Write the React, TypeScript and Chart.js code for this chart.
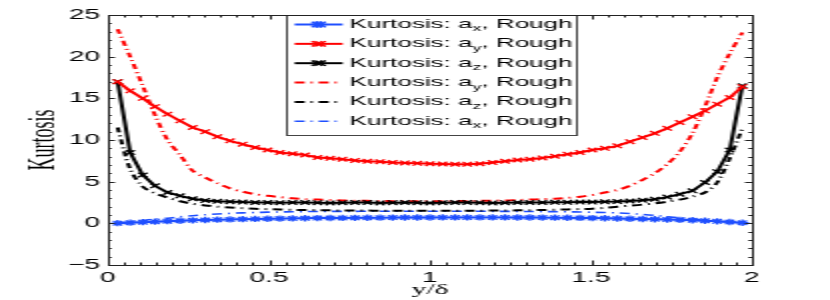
import React, { useEffect, useRef } from "react";
import { Chart, registerables } from "chart.js";

Chart.register(...registerables);

// wall-normal position y/δ
const yDelta = [
  0.030, 0.069, 0.108, 0.146, 0.185, 0.224, 0.263, 0.302, 0.340, 0.379,
  0.418, 0.457, 0.496, 0.534, 0.573, 0.612, 0.651, 0.690, 0.728, 0.767,
  0.806, 0.845, 0.884, 0.922, 0.961, 1.000, 1.039, 1.078, 1.116, 1.155,
  1.194, 1.233, 1.272, 1.310, 1.349, 1.388, 1.427, 1.466, 1.504, 1.543,
  1.582, 1.621, 1.660, 1.698, 1.737, 1.776, 1.815, 1.854, 1.892, 1.931,
  1.970,
];

const kurtAxRough = [
  0.02, 0.08, 0.14, 0.2, 0.26, 0.31, 0.36, 0.4, 0.44, 0.47,
  0.5, 0.53, 0.55, 0.57, 0.59, 0.61, 0.63, 0.64, 0.65, 0.66,
  0.67, 0.68, 0.69, 0.7, 0.7, 0.7, 0.71, 0.71, 0.71, 0.71,
  0.71, 0.71, 0.7, 0.7, 0.69, 0.68, 0.67, 0.65, 0.63, 0.61,
  0.58, 0.55, 0.52, 0.49, 0.46, 0.42, 0.37, 0.31, 0.24, 0.16,
  0.07,
];

const kurtAyRough = [
  17.0, 15.9, 15.0, 14.0, 13.1, 12.3, 11.5, 11.0, 10.4, 9.9,
  9.5, 9.1, 8.8, 8.5, 8.35, 8.2, 7.9, 7.8, 7.7, 7.55,
  7.45, 7.4, 7.3, 7.25, 7.2, 7.15, 7.12, 7.1, 7.1, 7.15,
  7.3, 7.45, 7.6, 7.7, 7.85, 8.05, 8.3, 8.5, 8.8, 9.0,
  9.3, 9.8, 10.3, 10.8, 11.4, 12.1, 12.8, 13.5, 14.3, 15.1,
  16.4,
];

const kurtAzRough = [
  17.0, 8.5, 5.8, 4.5, 3.7, 3.3, 2.95, 2.75, 2.65, 2.6,
  2.55, 2.5, 2.5, 2.48, 2.5, 2.5, 2.48, 2.45, 2.48, 2.5,
  2.5, 2.45, 2.48, 2.5, 2.48, 2.45, 2.48, 2.5, 2.5, 2.48,
  2.45, 2.48, 2.5, 2.5, 2.5, 2.52, 2.52, 2.55, 2.55, 2.58,
  2.62, 2.68, 2.78, 2.9, 3.15, 3.5, 3.9, 4.9, 6.2, 8.8,
  16.5,
];

const kurtAyRoughDash = [
  23.3, 20.0, 16.5, 13.0, 10.0, 8.2, 6.3, 5.5, 4.8, 4.2,
  3.8, 3.5, 3.3, 3.15, 3.0, 2.9, 2.85, 2.8, 2.75, 2.72,
  2.7, 2.68, 2.66, 2.65, 2.65, 2.65, 2.65, 2.66, 2.68, 2.7,
  2.72, 2.75, 2.8, 2.85, 2.9, 2.95, 3.05, 3.2, 3.4, 3.7,
  4.0, 4.5, 5.2, 6.0, 7.1, 8.6, 10.8, 14.0, 17.5, 20.4,
  22.9,
];

const kurtAzRoughDash = [
  11.5, 6.5, 4.4, 3.6, 3.1, 2.65, 2.35, 2.15, 2.0, 1.9,
  1.82, 1.75, 1.7, 1.66, 1.62, 1.6, 1.58, 1.56, 1.55, 1.54,
  1.53, 1.52, 1.52, 1.51, 1.5, 1.5, 1.5, 1.5, 1.51, 1.52,
  1.53, 1.54, 1.56, 1.58, 1.6, 1.63, 1.67, 1.71, 1.76, 1.85,
  2.0, 2.12, 2.25, 2.4, 2.6, 2.85, 3.2, 3.7, 4.9, 7.8,
  11.4,
];

const kurtAxRoughDash = [
  0.05, 0.2, 0.35, 0.5, 0.62, 0.78, 0.92, 1.03, 1.12, 1.2,
  1.26, 1.3, 1.34, 1.37, 1.39, 1.41, 1.42, 1.43, 1.44, 1.44,
  1.45, 1.45, 1.45, 1.45, 1.45, 1.45, 1.45, 1.45, 1.45, 1.45,
  1.44, 1.44, 1.43, 1.42, 1.41, 1.4, 1.38, 1.36, 1.33, 1.3,
  1.25, 1.17, 1.07, 0.95, 0.8, 0.66, 0.52, 0.38, 0.25, 0.14,
  0.05,
];

const seriesLabels = [
  "Kurtosis: a_x, Rough",
  "Kurtosis: a_y, Rough",
  "Kurtosis: a_z, Rough",
  "Kurtosis: a_y, Rough",
  "Kurtosis: a_z, Rough",
  "Kurtosis: a_x, Rough",
];

const X_MIN = 0;
const X_MAX = 2;
const X_STEP = 0.5;
const X_MINOR = 0.05;
const Y_MIN = -5;
const Y_MAX = 25;
const Y_STEP = 5;
const Y_MINOR = 1;

const BLUE = "#1f4fff";
const RED = "#ff0000";
const BLACK = "#000000";
const DASHDOT = [5, 3, 1, 3];

const SANS = "'Liberation Sans', Arial, Helvetica, sans-serif";
const SERIF = "'Liberation Serif', 'Times New Roman', serif";

function drawMarker(ctx: CanvasRenderingContext2D, style: string, x: number, y: number, r: number) {
  ctx.beginPath();
  if (style === "crossRot" || style === "star") {
    const d = r * Math.SQRT1_2 * 1.2;
    ctx.moveTo(x - d, y - d);
    ctx.lineTo(x + d, y + d);
    ctx.moveTo(x - d, y + d);
    ctx.lineTo(x + d, y - d);
  }
  if (style === "star") {
    ctx.moveTo(x - r, y);
    ctx.lineTo(x + r, y);
    ctx.moveTo(x, y - r);
    ctx.lineTo(x, y + r);
  }
  ctx.stroke();
}

const framePlugin = {
  id: "frameAndLegend",
  afterDatasetsDraw(chart: any) {
    const ctx: CanvasRenderingContext2D = chart.ctx;
    const { left, right, top, bottom } = chart.chartArea;
    const xs = chart.scales.x;
    const ys = chart.scales.y;
    ctx.save();

    // inward tick marks on all four sides
    ctx.strokeStyle = "#222";
    ctx.lineWidth = 1;
    ctx.setLineDash([]);
    const nx = Math.round((X_MAX - X_MIN) / X_MINOR);
    for (let k = 0; k <= nx; k++) {
      const v = X_MIN + k * X_MINOR;
      const px = Math.round(xs.getPixelForValue(v)) + 0.5;
      const major = Math.abs(v / X_STEP - Math.round(v / X_STEP)) < 1e-6;
      const len = major ? 4.5 : 2.5;
      ctx.beginPath();
      ctx.moveTo(px, bottom);
      ctx.lineTo(px, bottom - len);
      ctx.moveTo(px, top);
      ctx.lineTo(px, top + len);
      ctx.stroke();
    }
    const ny = Math.round((Y_MAX - Y_MIN) / Y_MINOR);
    for (let k = 0; k <= ny; k++) {
      const v = Y_MIN + k * Y_MINOR;
      const py = Math.round(ys.getPixelForValue(v)) + 0.5;
      const major = v % Y_STEP === 0;
      const len = major ? 3.5 : 1.8;
      ctx.beginPath();
      ctx.moveTo(left, py);
      ctx.lineTo(left + len, py);
      ctx.moveTo(right, py);
      ctx.lineTo(right - len, py);
      ctx.stroke();
    }

    // legend
    const lx0 = xs.getPixelForValue(0.555);
    const lx1 = xs.getPixelForValue(1.454);
    const ly0 = top;
    const rowH = 19.35;
    const ly1 = ly0 + rowH * 6 + 4;
    ctx.fillStyle = "#ffffff";
    ctx.fillRect(lx0, ly0, lx1 - lx0, ly1 - ly0);
    ctx.strokeStyle = "#444";
    ctx.lineWidth = 1;
    ctx.strokeRect(Math.round(lx0) + 0.5, Math.round(ly0) + 0.5, Math.round(lx1 - lx0), Math.round(ly1 - ly0));

    chart.data.datasets.forEach((ds: any, i: number) => {
      const cy = ly0 + 9.5 + i * rowH;
      const sx0 = lx0 + 4;
      const sx1 = lx0 + 28;
      ctx.strokeStyle = ds.borderColor;
      ctx.lineWidth = ds.borderWidth;
      ctx.setLineDash(ds.borderDash || []);
      ctx.beginPath();
      ctx.moveTo(sx0, cy);
      ctx.lineTo(sx1, cy);
      ctx.stroke();
      ctx.setLineDash([]);
      if (ds.pointRadius > 0) {
        ctx.lineWidth = ds.pointBorderWidth;
        drawMarker(ctx, ds.pointStyle, (sx0 + sx1) / 2 - 0.8, cy, ds.pointRadius);
        drawMarker(ctx, ds.pointStyle, (sx0 + sx1) / 2 + 0.8, cy, ds.pointRadius);
      }
      // text with subscript
      const label: string = ds.label;
      const us = label.indexOf("_");
      const pre = label.slice(0, us);
      const sub = label.slice(us + 1, us + 2);
      const post = label.slice(us + 2);
      ctx.fillStyle = "#000";
      ctx.textBaseline = "middle";
      ctx.textAlign = "left";
      let tx = lx0 + 31.5;
      ctx.font = `13px ${SANS}`;
      ctx.fillText(pre, tx, cy);
      tx += ctx.measureText(pre).width;
      ctx.font = `9px ${SANS}`;
      ctx.fillText(sub, tx, cy + 4.5);
      tx += ctx.measureText(sub).width;
      ctx.font = `13px ${SANS}`;
      ctx.fillText(post, tx, cy);
    });

    // plot frame
    ctx.strokeStyle = "#222";
    ctx.lineWidth = 1;
    ctx.strokeRect(Math.round(left) + 0.5, Math.round(top) + 0.5, Math.round(right - left), Math.round(bottom - top));
    ctx.restore();
  },
};

export default function App() {
  const ref = useRef<HTMLCanvasElement>(null);

  useEffect(() => {
    const canvas = ref.current;
    if (!canvas) return;
    const pts = (arr: number[]) => yDelta.map((x, i) => ({ x, y: arr[i] }));
    const solid = (label: string, arr: number[], color: string, style: string) => ({
      label,
      data: pts(arr),
      borderColor: color,
      backgroundColor: color,
      borderWidth: 2,
      borderDash: [],
      pointStyle: style,
      pointRadius: 3.2,
      pointBorderWidth: 1.3,
      pointBorderColor: color,
      fill: false,
      tension: 0,
    });
    const dashed = (label: string, arr: number[], color: string, width: number) => ({
      label,
      data: pts(arr),
      borderColor: color,
      backgroundColor: color,
      borderWidth: width,
      borderDash: DASHDOT,
      pointRadius: 0,
      pointBorderWidth: 0,
      pointStyle: "circle",
      fill: false,
      tension: 0.3,
    });

    const chart = new Chart(canvas, {
      type: "line",
      data: {
        datasets: [
          solid(seriesLabels[0], kurtAxRough, BLUE, "star"),
          solid(seriesLabels[1], kurtAyRough, RED, "crossRot"),
          solid(seriesLabels[2], kurtAzRough, BLACK, "crossRot"),
          dashed(seriesLabels[3], kurtAyRoughDash, RED, 2),
          dashed(seriesLabels[4], kurtAzRoughDash, BLACK, 2),
          dashed(seriesLabels[5], kurtAxRoughDash, BLUE, 1.6),
        ] as any,
      },
      options: {
        responsive: false,
        animation: false,
        devicePixelRatio: 1,
        layout: { padding: { top: 15, right: 39, bottom: 0, left: 0 } },
        plugins: {
          legend: { display: false },
          tooltip: { enabled: false },
          title: { display: false },
        },
        scales: {
          x: {
            type: "linear",
            min: X_MIN,
            max: X_MAX,
            grid: { display: false, drawTicks: false },
            border: { display: false },
            afterFit: (s: any) => {
              s.height = 35;
            },
            ticks: {
              stepSize: X_STEP,
              padding: 5,
              color: "#000",
              maxRotation: 0,
              autoSkip: false,
              font: { family: SANS, size: 14 },
              callback: (v: any) => String(Number(v)),
            },
            title: {
              display: true,
              text: "y/δ",
              color: "#000",
              font: { family: SERIF, size: 15 },
              padding: { top: 0, bottom: 1 },
            },
          },
          y: {
            type: "linear",
            min: Y_MIN,
            max: Y_MAX,
            grid: { display: false, drawTicks: false },
            border: { display: false },
            afterFit: (s: any) => {
              s.width = 54;
            },
            ticks: {
              stepSize: Y_STEP,
              padding: 4,
              color: "#000",
              autoSkip: false,
              font: { family: SANS, size: 14 },
              callback: (v: any) => (Number(v) < 0 ? "\u2212" + Math.abs(Number(v)) : String(v)),
            },
            title: {
              display: true,
              text: "Kurtosis",
              color: "#000",
              font: { family: SERIF, size: 18 },
              padding: { top: 11, bottom: 0 },
            },
          },
        },
      } as any,
      plugins: [framePlugin],
    });
    return () => chart.destroy();
  }, []);

  return (
    <div
      style={{
        position: "fixed",
        left: 0,
        top: 0,
        width: 830,
        height: 300,
        overflow: "hidden",
        background: "#ffffff",
      }}
    >
      <canvas
        ref={ref}
        width={415}
        height={300}
        style={{ width: "830px", height: "300px", display: "block" }}
      />
    </div>
  );
}
